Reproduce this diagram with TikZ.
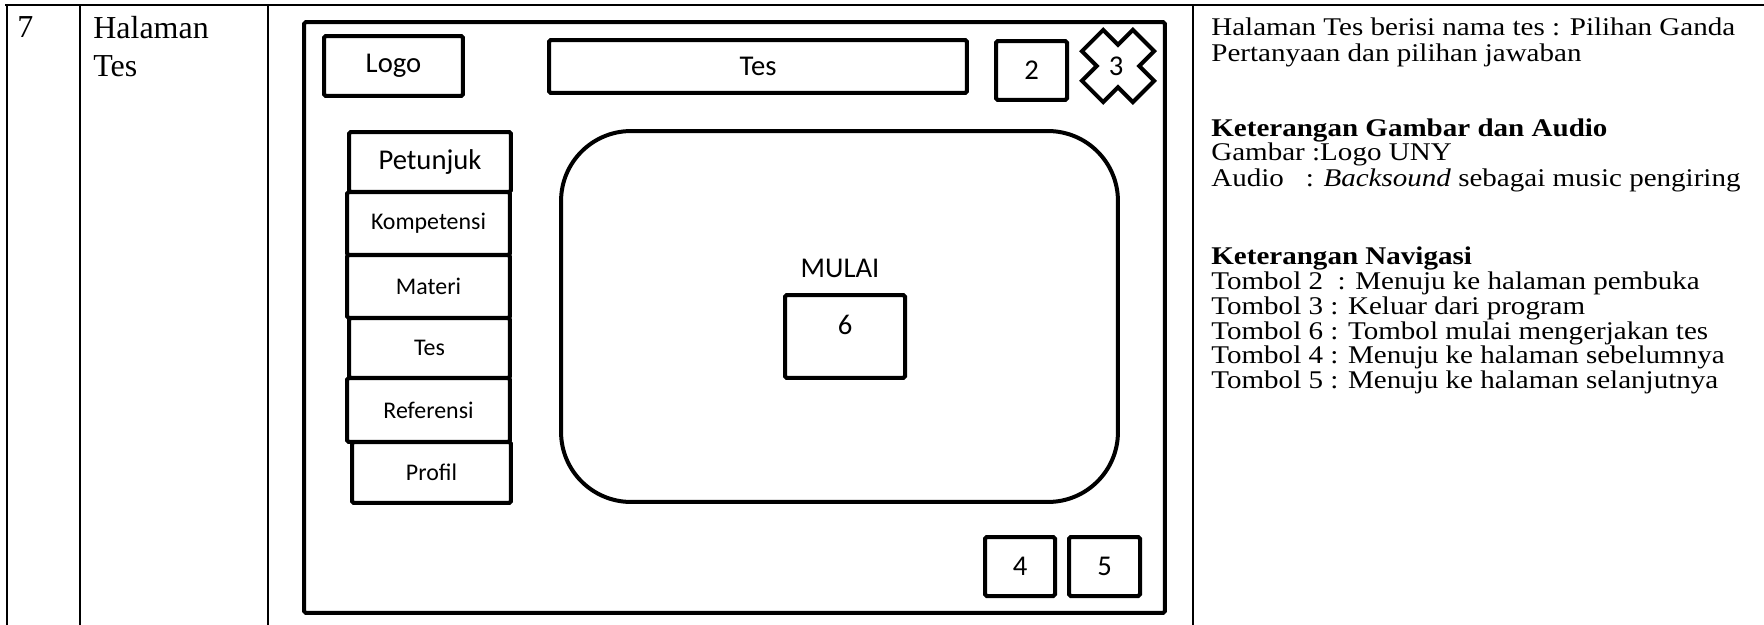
\documentclass[tikz,border=0pt]{standalone}
\usepackage{graphicx}
\usepackage{fontspec}
\setmainfont{Liberation Serif}
\newfontfamily\sketchfont{Carlito}

% teks keterangan, sedikit dilebarkan
\newcommand{\lebar}[1]{\scalebox{1.14}[1]{#1}}

\begin{document}
\begin{tikzpicture}[
		x=0.02cm, y=-0.02cm,
		grid/.style={
			line width=0.05cm
		},
		box/.style={
			draw,
			line width=0.08cm,
			rounded corners=1pt,
			inner sep=0pt,
			font=\sketchfont\fontsize{16.3}{18}\selectfont
		},
		menu/.style={
			box,
			font=\sketchfont\fontsize{13.6}{15}\selectfont
		},
		label/.style={
			inner sep=0pt,
			font=\sketchfont\fontsize{16.3}{18}\selectfont
		},
		cell/.style={
			anchor=base west,
			inner sep=0pt,
			font=\fontsize{18.2}{21}\selectfont
		},
		desc/.style={
			anchor=base west,
			inner sep=0pt,
			font=\fontsize{14.5}{14.2}\selectfont
		}
		]
		
		\useasboundingbox (0,0) rectangle (1764,625);
		
		% Garis tabel
		\draw[grid] (5,5) -- (1764,5);
		\draw[grid] (7,5) -- (7,625);
		\draw[grid] (80,5) -- (80,625);
		\draw[grid] (268,5) -- (268,625);
		\draw[grid] (1193,5) -- (1193,625);
		
		% Kolom nomor dan nama halaman
		\node[cell] (nomor) at (17,38) {7};
		\node[cell] (halaman) at (93,39) {Halaman};
		\node[cell] (namates) at (93,77) {Tes};
		
		% Bingkai layar
		\node[box, minimum width=17.22cm, minimum height=11.82cm] (layar) at (734.5,317.5) {};
		
		% Bagian atas
		\node[box, minimum width=2.78cm, minimum height=1.2cm] (logo) at (393.5,66) {Logo};
		\node[box, minimum width=8.36cm, minimum height=1.06cm] (judul) at (758,66.5) {Tes};
		\node[box, minimum width=1.42cm, minimum height=1.18cm] (tombol2) at (1031.5,70.5) {2};
		
		% Tombol keluar
		\draw[line width=0.08cm, shift={(1118,66)}, rotate=45]
			(15,15) -- (15,36) -- (-15,36) -- (-15,15) -- (-36,15) -- (-36,-15)
			-- (-15,-15) -- (-15,-36) -- (15,-36) -- (15,-15) -- (36,-15) -- (36,15) -- cycle;
		\node[label] (tombol3) at (1116,66) {3};
		
		% Menu samping
		\node[box, minimum width=3.24cm, minimum height=1.2cm] (petunjuk) at (430,162) {Petunjuk};
		\node[menu, minimum width=3.26cm, minimum height=1.26cm] (kompetensi) at (428.5,223.5) {Kompetensi};
		\node[menu, minimum width=3.26cm, minimum height=1.26cm] (materi) at (428.5,286.5) {Materi};
		\node[menu, minimum width=3.22cm, minimum height=1.2cm] (tes) at (429.5,348) {Tes};
		\node[menu, minimum width=3.26cm, minimum height=1.28cm] (referensi) at (428.5,410) {Referensi};
		\node[menu, minimum width=3.18cm, minimum height=1.22cm] (profil) at (431.5,472.5) {Profil};
		
		% Area isi
		\node[draw, line width=0.08cm, rounded corners=1.4cm, minimum width=11.14cm, minimum height=7.42cm] (isi) at (839.5,316.5) {};
		\node[label] (mulai) at (840,268) {MULAI};
		\node[box, minimum width=2.4cm, minimum height=1.66cm] (tombol6) at (845,336.5) {};
		\node[label] (angka6) at (845,325) {6};
		
		% Tombol navigasi
		\node[box, minimum width=1.4cm, minimum height=1.18cm] (tombol4) at (1020,566.5) {4};
		\node[box, minimum width=1.42cm, minimum height=1.18cm] (tombol5) at (1104.5,566.5) {5};
		
		% Keterangan
		\node[desc] (ket1) at (1211,36) {\lebar{Halaman Tes berisi nama tes : Pilihan Ganda}};
		\node[desc] (ket2) at (1211,62) {\lebar{Pertanyaan dan pilihan jawaban}};
		\node[desc] (ketgambar) at (1211,136) {\lebar{\textbf{Keterangan Gambar dan Audio}}};
		\node[desc] (gambar) at (1211,160) {\lebar{Gambar :Logo UNY}};
		\node[desc] (audio) at (1211,186) {\lebar{Audio\hspace{0.75em}: \textit{Backsound} sebagai music pengiring}};
		\node[desc] (ketnav) at (1211,264) {\lebar{\textbf{Keterangan Navigasi}}};
		\node[desc] (nav2) at (1211,289) {\lebar{Tombol 2\ \ : Menuju ke halaman pembuka}};
		\node[desc] (nav3) at (1211,314) {\lebar{Tombol 3 : Keluar dari program}};
		\node[desc] (nav6) at (1211,339) {\lebar{Tombol 6 : Tombol mulai mengerjakan tes}};
		\node[desc] (nav4) at (1211,363) {\lebar{Tombol 4 : Menuju ke halaman sebelumnya}};
		\node[desc] (nav5) at (1211,388) {\lebar{Tombol 5 : Menuju ke halaman selanjutnya}};
		
	\end{tikzpicture}
\end{document}
